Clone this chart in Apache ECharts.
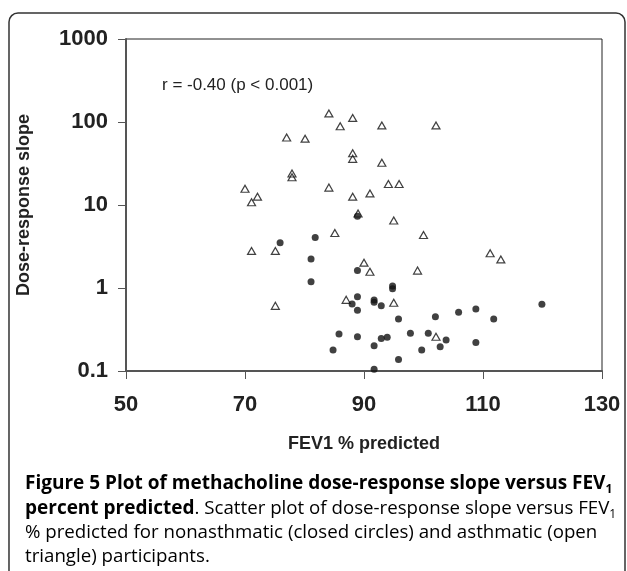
<!DOCTYPE html>
<html>
<head>
<meta charset="utf-8">
<script src="https://cdn.jsdelivr.net/npm/echarts@6/dist/echarts.min.js"></script>
<style>
  html, body { margin: 0; padding: 0; background: #fff; }
  #main { width: 627px; height: 571px; }
</style>
</head>
<body>
<div id="main"></div>
<script>
// asthmatic participants (open triangles): [FEV1 % predicted, dose-response slope]
var asthmatic = [
  [84.1, 127], [86.0, 89], [88.1, 112], [77.0, 65], [80.1, 63],
  [88.1, 42], [88.1, 36], [77.9, 24], [77.9, 21.6], [84.1, 16.2],
  [70.0, 15.7], [71.1, 10.8], [72.1, 12.6], [88.1, 12.6], [89.0, 7.9],
  [93.0, 91], [102.1, 91], [93.0, 32.3], [94.1, 17.9], [95.9, 17.9],
  [91.0, 13.8], [95.0, 6.5], [85.1, 4.6], [71.1, 2.8], [75.1, 2.8],
  [100.0, 4.35], [111.2, 2.62], [113.0, 2.21], [90.0, 2.02], [91.0, 1.57],
  [99.0, 1.62], [87.0, 0.72], [75.1, 0.61], [95.0, 0.665], [102.1, 0.259]
];
// nonasthmatic participants (closed circles)
var nonasthmatic = [
  [88.9, 7.3], [81.8, 4.07], [75.9, 3.52], [81.1, 2.24], [88.9, 1.63],
  [81.1, 1.19], [88.0, 0.64], [88.9, 0.785], [88.9, 0.54], [85.8, 0.279],
  [88.9, 0.259], [84.8, 0.179], [94.8, 1.06], [94.8, 0.98], [91.7, 0.716],
  [91.7, 0.672], [92.9, 0.612], [119.9, 0.636], [108.8, 0.558], [105.9, 0.509],
  [102.0, 0.451], [111.8, 0.423], [95.8, 0.423], [97.8, 0.284], [100.8, 0.284],
  [103.8, 0.236], [92.9, 0.247], [93.9, 0.255], [91.7, 0.202], [102.8, 0.196],
  [108.8, 0.221], [99.7, 0.179], [95.8, 0.138], [91.7, 0.105]
];
var xTicks = [50, 70, 90, 110, 130];
var yTicks = ['0.1', '1', '10', '100', '1000'];
var statText = 'r = -0.40 (p < 0.001)';
var xName = 'FEV1 % predicted';
var yName = 'Dose-response slope';
var captionLines = [
  '{b|Figure 5 Plot of methacholine dose-response slope versus FEV}{bs|1}',
  '{b|percent predicted}{n|. Scatter plot of dose-response slope versus FEV}{ns|1}',
  '{n|% predicted for nonasthmatic (closed circles) and asthmatic (open}',
  '{n|triangle) participants.}'
];

var myChart = echarts.init(document.getElementById('main'));

var capRich = {
  b: { fontFamily: 'Open Sans', fontWeight: 'bold', fontSize: 19, color: '#231f20', lineHeight: 24 },
  bs: { fontFamily: 'Open Sans', fontWeight: 'bold', fontSize: 12, color: '#231f20', lineHeight: 12, verticalAlign: 'bottom' },
  n: { fontFamily: 'Open Sans', fontWeight: 'normal', fontSize: 18.7, color: '#4a4a4a', lineHeight: 24 },
  ns: { fontFamily: 'Open Sans', fontWeight: 'normal', fontSize: 12, color: '#4a4a4a', lineHeight: 12, verticalAlign: 'bottom' }
};

var graphics = [
  {
    type: 'rect',
    shape: { x: 9, y: 13, width: 616, height: 620, r: 9 },
    style: { fill: 'none', stroke: '#333', lineWidth: 1.5 },
    z: -1
  },
  {
    type: 'text',
    style: {
      x: 162, y: 85, text: statText,
      fontFamily: 'Liberation Sans', fontSize: 17, fill: '#222',
      verticalAlign: 'middle'
    }
  }
];
captionLines.forEach(function (line, i) {
  graphics.push({
    type: 'text',
    style: {
      x: 25, y: 484 + i * 24.3, text: line, rich: capRich,
      verticalAlign: 'middle'
    }
  });
});

option = {
  backgroundColor: '#fff',
  animation: false,
  grid: {
    left: 126,
    top: 39,
    right: 25,
    bottom: 200,
    show: true,
    borderColor: '#222',
    borderWidth: 1
  },
  xAxis: {
    type: 'value',
    min: 50,
    max: 130,
    interval: 20,
    name: xName,
    nameLocation: 'middle',
    nameGap: 64,
    nameTextStyle: { fontFamily: 'Liberation Sans', fontWeight: 'bold', fontSize: 18, color: '#222' },
    axisLine: { show: true, lineStyle: { color: '#555', width: 2 } },
    axisTick: { show: true, length: 8, lineStyle: { color: '#555', width: 1 } },
    axisLabel: {
      margin: 23,
      fontFamily: 'Liberation Sans', fontWeight: 'bold', fontSize: 22, color: '#222',
      formatter: function (v) { return xTicks.indexOf(v) >= 0 ? String(v) : ''; }
    },
    splitLine: { show: false }
  },
  yAxis: {
    type: 'log',
    logBase: 10,
    min: 0.1,
    max: 1000,
    name: yName,
    nameLocation: 'middle',
    nameRotate: 90,
    nameGap: 93,
    nameTextStyle: { fontFamily: 'Liberation Sans', fontWeight: 'bold', fontSize: 18, color: '#222' },
    axisLine: { show: true, lineStyle: { color: '#555', width: 2 } },
    axisTick: { show: true, length: 8, lineStyle: { color: '#555', width: 1 } },
    axisLabel: {
      margin: 18,
      fontFamily: 'Liberation Sans', fontWeight: 'bold', fontSize: 22, color: '#222',
      formatter: function (v) {
        var s = String(+v.toPrecision(3));
        return yTicks.indexOf(s) >= 0 ? s : '';
      }
    },
    splitLine: { show: false }
  },
  graphic: graphics,
  series: [
    {
      name: 'asthmatic',
      type: 'scatter',
      symbol: 'triangle',
      symbolSize: [8, 7],
      itemStyle: { color: 'rgba(255,255,255,0)', borderColor: '#111', borderWidth: 1.2 },
      data: asthmatic,
      z: 2
    },
    {
      name: 'nonasthmatic',
      type: 'scatter',
      symbol: 'circle',
      symbolSize: 7,
      itemStyle: { color: '#111' },
      data: nonasthmatic,
      z: 3
    }
  ]
};
myChart.setOption(option);
</script>
</body>
</html>
